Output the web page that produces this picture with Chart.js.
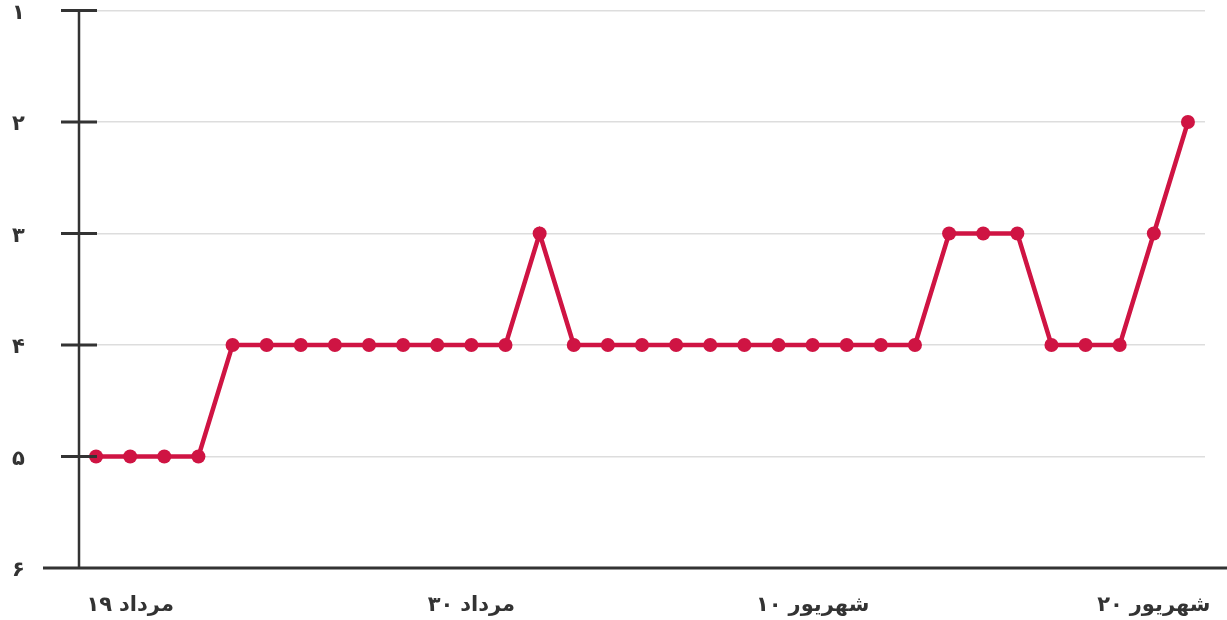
<!DOCTYPE html>
<html>
<head>
<meta charset="utf-8">
<script src="https://cdn.jsdelivr.net/npm/chart.js@4.4.1/dist/chart.umd.min.js"></script>
<style>
  html, body { margin: 0; padding: 0; background: #fff; }
  .wrap { width: 1227px; height: 620px; position: relative; }
</style>
</head>
<body>
<div class="wrap"><canvas id="rankChart"></canvas></div>
<script>
  // days from 19 Mordad to 20 Shahrivar, only a few carry a label
  const dayLabels = [
    "", "۱۹ مرداد", "", "", "", "", "", "", "", "", "",
    "۳۰ مرداد", "", "", "", "", "", "", "", "", "",
    "۱۰ شهریور", "", "", "", "", "", "", "", "", "",
    "۲۰ شهریور", ""
  ];
  const ranks = [
    5, 5, 5, 5, 4, 4, 4, 4, 4, 4, 4, 4, 4, 3, 4, 4, 4,
    4, 4, 4, 4, 4, 4, 4, 4, 3, 3, 3, 4, 4, 4, 3, 2
  ];
  const rankTicks = ["۱", "۲", "۳", "۴", "۵", "۶"];

  const red = "#cf1443";
  const dark = "#333333";
  const font = "'DejaVu Sans', sans-serif";

  // dark axis lines, short ticks crossing the y axis, and the date labels
  const axisMarks = {
    id: "axisMarks",
    afterDatasetsDraw(chart) {
      const { ctx, chartArea, scales } = chart;
      ctx.save();
      ctx.strokeStyle = dark;
      ctx.lineWidth = 2.5;
      ctx.beginPath();
      ctx.moveTo(chartArea.left, chartArea.top);
      ctx.lineTo(chartArea.left, chartArea.bottom);
      ctx.stroke();
      ctx.lineWidth = 3;
      ctx.beginPath();
      ctx.moveTo(chartArea.left - 36, chartArea.bottom);
      ctx.lineTo(chart.width, chartArea.bottom);
      ctx.stroke();
      for (let v = 1; v <= 5; v++) {
        const y = scales.y.getPixelForValue(v);
        ctx.beginPath();
        ctx.moveTo(chartArea.left - 18, y);
        ctx.lineTo(chartArea.left + 18, y);
        ctx.stroke();
      }
      ctx.restore();
    },
    afterDraw(chart) {
      // number and month drawn as two pieces so the number stays on the left
      const { ctx, chartArea, scales } = chart;
      ctx.save();
      ctx.font = "bold 21px 'DejaVu Sans'";
      ctx.fillStyle = dark;
      ctx.textAlign = "left";
      const y = chartArea.bottom + 43;
      dayLabels.forEach((text, i) => {
        if (!text) return;
        const [num, month] = text.split(" ");
        const gap = 7;
        const wNum = ctx.measureText(num).width;
        const wMonth = ctx.measureText(month).width;
        const x0 = scales.x.getPixelForValue(i) - (wNum + gap + wMonth) / 2;
        ctx.fillText(num, x0, y);
        ctx.fillText(month, x0 + wNum + gap, y);
      });
      ctx.restore();
    },
  };

  new Chart(document.getElementById("rankChart"), {
    type: "line",
    data: {
      labels: dayLabels,
      datasets: [
        {
          data: ranks,
          borderColor: red,
          backgroundColor: red,
          borderWidth: 4.5,
          pointRadius: 7,
          pointBackgroundColor: red,
          pointBorderWidth: 0,
          tension: 0,
          fill: false,
        },
      ],
    },
    options: {
      responsive: true,
      maintainAspectRatio: false,
      animation: false,
      layout: { padding: { top: 0, right: 22, left: 12, bottom: 0 } },
      plugins: {
        legend: { display: false },
        tooltip: { enabled: false },
      },
      scales: {
        x: {
          offset: true,
          grid: { display: false, drawTicks: false },
          border: { display: false },
          ticks: { display: false, autoSkip: false, maxRotation: 0 },
          afterFit(scale) { scale.height = 52; },
        },
        y: {
          reverse: true,
          min: 1,
          max: 6,
          grid: { color: "#dddddd", lineWidth: 1.5, drawTicks: false },
          border: { display: false },
          ticks: {
            stepSize: 1,
            color: dark,
            font: { family: font, weight: "bold", size: 21, lineHeight: 1 },
            padding: 0,
            labelOffset: 3,
            crossAlign: "far",
            callback: (value) => rankTicks[value - 1],
          },
          afterFit(scale) { scale.width = 67; },
        },
      },
    },
    plugins: [axisMarks],
  });
</script>
</body>
</html>
